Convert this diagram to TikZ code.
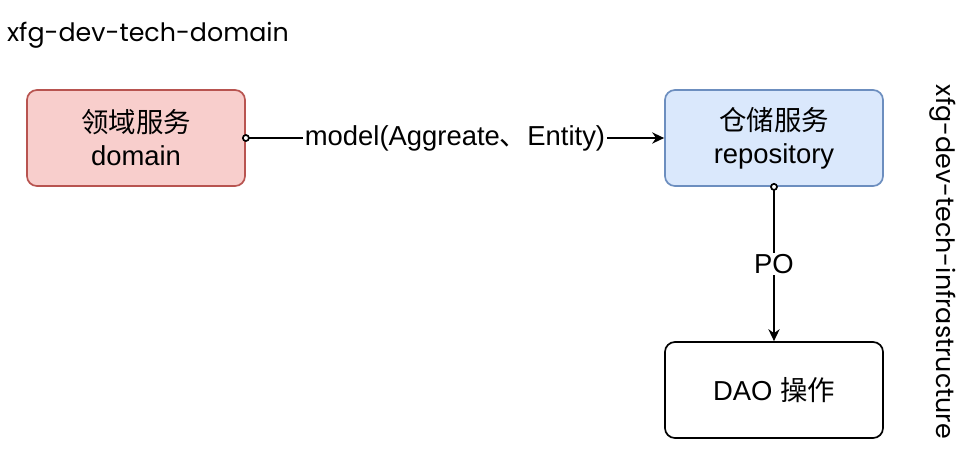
\documentclass[tikz,border=0pt]{standalone}
\usepackage{fontspec}
\setmainfont{Liberation Sans}
\newfontfamily\cjk{Noto Sans CJK SC}
\newfontfamily\handfont{Poppins}
\usetikzlibrary{arrows.meta}
\definecolor{domainFill}{HTML}{F8CECC}
\definecolor{domainLine}{HTML}{B85450}
\definecolor{repoFill}{HTML}{DAE8FC}
\definecolor{repoLine}{HTML}{6C8EBF}
\begin{document}
\begin{tikzpicture}
            [x=0.025cm, y=-0.025cm,
        box/.style={draw, rounded corners=0.25cm, line width=1.2pt, minimum width=5.45cm, minimum height=2.4cm, align=center, font=\fontsize{19.5}{23.5}\selectfont},
        domainBox/.style={box, fill=domainFill, draw=domainLine},
        repoBox/.style={box, fill=repoFill, draw=repoLine},
        title/.style={font=\handfont\fontsize{18}{22}\selectfont},
        link/.style={line width=1.2pt, {Circle[fill=white,length=5.5pt]}-{Stealth[length=8.5pt,width=8pt]}, shorten <=-2.75pt},
        linkLabel/.style={midway, fill=white, inner sep=1pt, font=\fontsize{19.5}{23.5}\selectfont}]
            \useasboundingbox (0,0) rectangle (976,470);
            \node[title] (domainTitle) at (148,35) {xfg-dev-tech-domain};
            \node[title, rotate=-90] (infraTitle) at (943,262) {xfg-dev-tech-infrastructure};

            \node[domainBox] (domain) at (136,138) {{\cjk 领域服务}\\domain};
            \node[repoBox] (repo) at (774,138) {{\cjk 仓储服务}\\repository};
            \node[box] (dao) at (774,390) {DAO {\cjk 操作}};

            \draw[link] (domain) -- (repo) node[linkLabel] {model(Aggreate{\cjk 、}Entity)};
            \draw[link] (repo) -- (dao) node[linkLabel] {PO};
        \end{tikzpicture}
\end{document}
